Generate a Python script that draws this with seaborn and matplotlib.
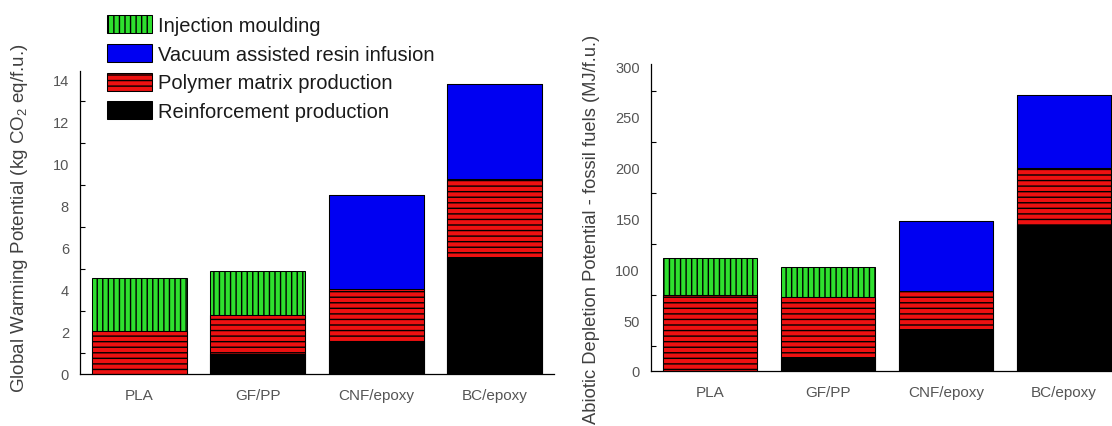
import numpy as np
import pandas as pd
import matplotlib
matplotlib.use("Agg")
import matplotlib.pyplot as plt
from matplotlib.patches import Patch
from matplotlib.ticker import MultipleLocator
import seaborn as sns

# ---------------- data ----------------
categories = ["PLA", "GF/PP", "CNF/epoxy", "BC/epoxy"]

# Global Warming Potential (kg CO2 eq / f.u.), stacked bottom -> top
gwp_reinforcement = [0.0, 0.97, 1.56, 5.59]
gwp_polymer = [2.03, 1.83, 2.47, 3.71]
gwp_vacuum = [0.0, 0.0, 4.51, 4.50]
gwp_injection = [2.54, 2.09, 0.0, 0.0]

# Abiotic Depletion Potential - fossil fuels (MJ / f.u.)
adp_reinforcement = [0.0, 13.5, 41.3, 143.3]
adp_polymer = [74.5, 59.0, 37.1, 56.1]
adp_vacuum = [0.0, 0.0, 69.6, 72.1]
adp_injection = [37.0, 29.5, 0.0, 0.0]

gwp_ticks = [0, 2, 4, 6, 8, 10, 12, 14]
adp_ticks = [0, 50, 100, 150, 200, 250, 300]

gwp_label = "Global Warming Potential (kg CO$_2$ eq/f.u.)"
adp_label = "Abiotic Depletion Potential - fossil fuels (MJ/f.u.)"

legend_labels = ["Injection moulding", "Vacuum assisted resin infusion",
                 "Polymer matrix production", "Reinforcement production"]

# ---------------- style ----------------
sns.set_style("white")
plt.rcParams['font.family'] = ['Liberation Sans', 'DejaVu Sans']
plt.rcParams['mathtext.fontset'] = 'custom'
plt.rcParams['mathtext.rm'] = 'Liberation Sans'
plt.rcParams['mathtext.it'] = 'Liberation Sans'
plt.rcParams['hatch.linewidth'] = 1.0
plt.rcParams['hatch.color'] = 'black'

# layer styles, bottom -> top
layer_colors = ["#000000", "#ee1111", "#0000f2", "#2ee02e"]
layer_hatches = [None, "---", None, "|||"]

TICK_GRAY = "#555555"
LABEL_GRAY = "#404040"

fig = plt.figure(figsize=(11.12, 4.27), dpi=100)
ax1 = fig.add_axes([80 / 1112, 52 / 427, 474 / 1112, 303.3 / 427])
ax2 = fig.add_axes([651 / 1112, 55 / 427, 472 / 1112, 307 / 427])


def draw(ax, layers, ticks, ymax, label, label_xy, label_size):
    cum = np.cumsum(np.array(layers, dtype=float), axis=0)
    for i in reversed(range(len(layers))):
        df = pd.DataFrame({"category": categories, "value": cum[i]})
        sns.barplot(data=df, x="category", y="value", order=categories,
                    color=layer_colors[i], saturation=1,
                    hatch=layer_hatches[i], edgecolor="black",
                    linewidth=0.75, width=0.8, errorbar=None, ax=ax)
    ax.set_xlim(-0.5, 3.5)
    ax.set_ylim(0, ymax)
    ax.set_yticks(ticks)
    ax.yaxis.set_minor_locator(MultipleLocator((ticks[1] - ticks[0]) / 2))
    ax.tick_params(axis='y', which='major', direction='in', length=7,
                   width=0.8, color='black', labelcolor=TICK_GRAY,
                   labelsize=10.5, pad=8)
    ax.tick_params(axis='y', which='minor', direction='in', length=3.6,
                   width=0.8, color='black', left=True)
    ax.tick_params(axis='x', length=0, pad=10, labelsize=11,
                   labelcolor=TICK_GRAY)
    for s in ["top", "right"]:
        ax.spines[s].set_visible(False)
    for s in ["left", "bottom"]:
        ax.spines[s].set_color("black")
        ax.spines[s].set_linewidth(0.9)
    ax.set_xlabel("")
    ax.set_ylabel(label, fontsize=label_size, color=LABEL_GRAY)
    ax.yaxis.set_label_coords(*label_xy)


draw(ax1, [gwp_reinforcement, gwp_polymer, gwp_vacuum, gwp_injection],
     gwp_ticks, 14.43, gwp_label, (-0.1055, 0.516), 13.5)
draw(ax2, [adp_reinforcement, adp_polymer, adp_vacuum, adp_injection],
     adp_ticks, 302, adp_label, (-0.108, 0.463), 13.2)

# legend (top -> bottom order)
handles = []
for i in [3, 2, 1, 0]:
    handles.append(Patch(facecolor=layer_colors[i], edgecolor="black",
                         hatch=layer_hatches[i], linewidth=0.75))
fig.legend(handles, legend_labels, loc="upper left",
           bbox_to_anchor=(107 / 1112, 1 - 16 / 427), frameon=False,
           fontsize=14.5, handlelength=2.23, handleheight=1.0,
           handletextpad=0.3, labelspacing=0.44, borderpad=0,
           borderaxespad=0, labelcolor="#1a1a1a")

fig.savefig("out.png", dpi=100)
